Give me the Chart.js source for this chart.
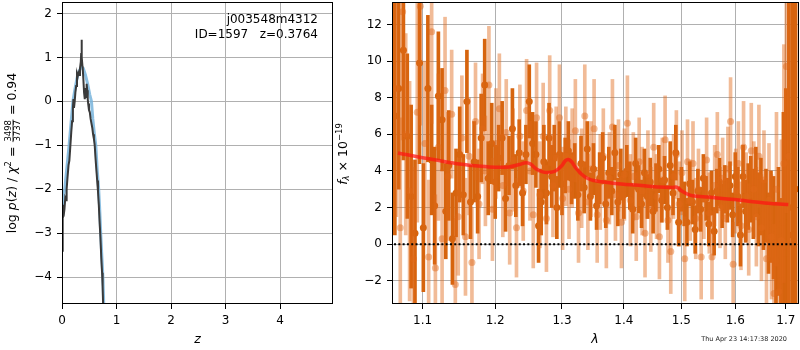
<!DOCTYPE html>
<html>
<head>
<meta charset="utf-8">
<script src="https://cdn.jsdelivr.net/npm/chart.js@4.4.0/dist/chart.umd.min.js"></script>
<style>
html, body { margin: 0; padding: 0; background: #fff; }
#wrap { position: relative; width: 800px; height: 350px; }
#pzChart { position: absolute; left: 0; top: 0; }
#specChart { position: absolute; left: 330px; top: 0; }
</style>
</head>
<body>
<div id="wrap">
    <canvas id="pzChart" width="340" height="350"></canvas>
    <canvas id="specChart" width="470" height="350"></canvas>
</div>
<script>
// p(z) pannello sinistro
const zDark = [0.000, 0.008, 0.018, 0.030, 0.045, 0.060, 0.075, 0.085, 0.100, 0.120,
    0.135, 0.154, 0.170, 0.185, 0.200, 0.210, 0.220, 0.233, 0.245, 0.260,
    0.275, 0.285, 0.300, 0.315, 0.330, 0.345, 0.352, 0.358, 0.365, 0.375,
    0.380, 0.392, 0.405, 0.418, 0.430, 0.442, 0.452, 0.462, 0.472, 0.480,
    0.495, 0.510, 0.525, 0.540, 0.555, 0.570, 0.585, 0.600, 0.615, 0.630,
    0.645, 0.660, 0.675, 0.690, 0.705, 0.720, 0.735, 0.745, 0.760];
const logpDark = [-3.4, -2.35, -2.65, -2.6, -2.45, -2.2, -2.25, -2.0, -1.75, -1.45,
    -1.35, -1.0, -0.7, -0.45, -0.15, 0.05, -0.15, 0.0, 0.2, 0.35,
    0.6, 0.55, 0.65, 0.6, 0.75, 0.9, 1.1, 1.4, 1.0, 0.8,
    0.75, 0.5, 0.2, 0.05, 0.3, 0.1, 0.4, 0.25, 0.05, -0.05,
    -0.2, -0.25, -0.4, -0.5, -0.6, -0.75, -0.85, -1.0, -1.3, -1.55,
    -1.8, -2.05, -2.35, -2.75, -3.1, -3.55, -3.9, -4.2, -4.9];
const zSmooth = [0.0, 0.025, 0.05, 0.09, 0.13, 0.165, 0.2, 0.24, 0.28, 0.32, 0.356, 0.39, 0.43,
    0.47, 0.51, 0.54, 0.565, 0.595, 0.62, 0.648, 0.673, 0.693, 0.71, 0.73, 0.75, 0.77];
const logpSmooth = [-2.45, -2.2, -2.0, -1.5, -1.0, -0.5, 0.0, 0.3, 0.55, 0.7, 0.79, 0.75, 0.6,
    0.4, 0.15, 0.0, -0.4, -0.75, -1.0, -1.6, -2.0, -2.5, -3.0, -3.5, -4.0, -4.8];
const zTicks = [0, 1, 2, 3, 4];
const logpTicks = [-4, -3, -2, -1, 0, 1, 2];

// spettro - serie scura
const waveA = [1.064, 1.069, 1.075, 1.080, 1.085, 1.090, 1.096, 1.101, 1.107, 1.112,
    1.116, 1.121, 1.126, 1.131, 1.135, 1.140, 1.145, 1.150, 1.155, 1.160,
    1.165, 1.170, 1.175, 1.180, 1.185, 1.190, 1.195, 1.200, 1.205, 1.210,
    1.215, 1.220, 1.225, 1.230, 1.235, 1.240, 1.245, 1.250, 1.255, 1.260,
    1.264, 1.268, 1.272, 1.276, 1.280, 1.284, 1.288, 1.292, 1.296, 1.300,
    1.305, 1.310, 1.315, 1.320, 1.325, 1.330, 1.335, 1.340, 1.345, 1.350,
    1.355, 1.360, 1.365, 1.370, 1.375, 1.380, 1.385, 1.390, 1.395, 1.400,
    1.405, 1.410, 1.415, 1.420, 1.425, 1.430, 1.435, 1.440, 1.445, 1.450,
    1.455, 1.460, 1.465, 1.470, 1.475, 1.480, 1.485, 1.490, 1.495, 1.500,
    1.505, 1.510, 1.515, 1.520, 1.525, 1.530, 1.535, 1.540, 1.545, 1.550,
    1.555, 1.560, 1.565, 1.570, 1.575, 1.580, 1.585, 1.590, 1.595, 1.600,
    1.605, 1.610, 1.615, 1.620, 1.625, 1.630, 1.635, 1.640, 1.645, 1.650,
    1.655, 1.660, 1.665, 1.670, 1.675, 1.680, 1.685, 1.690, 1.695, 1.700,
    1.706, 1.713, 1.720];
const fluxA = [7.0, 8.5, 10.6, 5.9, 2.6, 0.6, 9.9, 0.9, 8.5, 4.6,
    2.1, 8.1, 6.8, 1.8, 4.3, 0.3, 2.8, 4.9, 2.7, 7.8,
    2.3, 4.5, 2.6, 5.8, 8.7, 3.6, 5.5, 3.4, 4.7, 5.8,
    2.5, 4.3, 6.3, 3.2, 5.0, 2.8, 4.9, 7.8, 5.5, 4.9,
    1.0, 2.3, 4.5, 2.8, 5.8, 3.7, 4.7, 2.0, 4.9, 3.3,
    4.3, 5.1, 3.6, 4.0, 2.7, 4.4, 3.1, 5.2, 2.6, 4.1,
    2.1, 3.6, 4.7, 2.2, 3.9, 2.9, 5.0, 2.3, 3.8, 2.7,
    4.0, 3.2, 1.9, 4.4, 3.0, 2.2, 3.9, 2.6, 3.4, 1.8,
    3.1, 4.1, 2.4, 3.5, 2.0, 4.3, 2.8, 5.0, 1.2, 3.0,
    2.2, 1.2, 3.3, 2.3, 0.8, 2.9, 1.9, 3.6, 2.5, 1.1,
    2.8, 0.7, 2.9, 3.4, 2.1, 3.0, 2.4, 3.2, 1.6, 3.7,
    2.6, 0.5, 3.7, 1.8, 2.6, 3.0, 2.2, 3.4, 1.9, 2.6,
    1.6, 2.1, 0.6, 1.5, 0.9, -0.9, 0.7, -2.0, 1.2, -0.5,
    2.0, 0.5, 3.0];
const errA = [6.5, 5.5, 6.0, 4.5, 5.0, 4.0, 5.5, 3.5, 4.0, 3.0,
    3.2, 3.5, 2.8, 2.6, 3.0, 2.5, 2.4, 2.6, 2.2, 2.8,
    2.0, 2.2, 2.0, 2.4, 2.5, 2.0, 2.2, 2.0, 1.8, 2.0,
    1.8, 1.6, 2.2, 1.7, 1.8, 1.8, 1.6, 2.0, 1.7, 1.8,
    2.0, 1.8, 2.0, 1.7, 1.9, 1.7, 1.8, 1.7, 1.8, 1.7,
    1.5, 1.6, 1.4, 1.5, 1.4, 1.5, 1.4, 1.5, 1.3, 1.4,
    1.3, 1.4, 1.4, 1.3, 1.4, 1.3, 1.5, 1.3, 1.4, 1.3,
    1.4, 1.3, 1.3, 1.4, 1.3, 1.3, 1.3, 1.2, 1.3, 1.2,
    1.3, 1.3, 1.2, 1.3, 1.2, 1.3, 1.2, 1.5, 1.3, 1.2,
    1.2, 1.3, 1.2, 1.2, 1.3, 1.2, 1.2, 1.3, 1.2, 1.2,
    1.2, 1.3, 1.2, 1.3, 1.2, 1.3, 1.2, 1.3, 1.2, 1.3,
    1.6, 1.7, 1.7, 1.7, 1.8, 1.8, 1.9, 1.9, 2.0, 2.1,
    1.9, 2.0, 2.2, 2.5, 2.8, 3.2, 3.5, 4.5, 6.0, 9.0,
    12.0, 16.0, 18.0];

// spettro - serie chiara
const waveB = [1.066, 1.071, 1.074, 1.078, 1.083, 1.088, 1.093, 1.097, 1.103, 1.108,
    1.112, 1.117, 1.121, 1.126, 1.130, 1.134, 1.139, 1.144, 1.148, 1.153,
    1.158, 1.163, 1.167, 1.172, 1.177, 1.182, 1.186, 1.191, 1.196, 1.201,
    1.206, 1.211, 1.216, 1.221, 1.226, 1.231, 1.236, 1.241, 1.246, 1.251,
    1.256, 1.261, 1.266, 1.271, 1.276, 1.281, 1.286, 1.291, 1.296, 1.301,
    1.306, 1.311, 1.316, 1.321, 1.326, 1.331, 1.336, 1.341, 1.346, 1.351,
    1.356, 1.361, 1.366, 1.371, 1.376, 1.381, 1.386, 1.391, 1.396, 1.401,
    1.406, 1.411, 1.416, 1.421, 1.426, 1.431, 1.436, 1.441, 1.446, 1.451,
    1.456, 1.461, 1.466, 1.471, 1.476, 1.481, 1.486, 1.491, 1.496, 1.501,
    1.506, 1.511, 1.516, 1.521, 1.526, 1.531, 1.536, 1.541, 1.546, 1.551,
    1.556, 1.561, 1.566, 1.571, 1.576, 1.581, 1.586, 1.591, 1.596, 1.601,
    1.606, 1.611, 1.616, 1.621, 1.626, 1.631, 1.636, 1.641, 1.646, 1.651,
    1.656, 1.661, 1.666, 1.671, 1.676, 1.681, 1.686, 1.691, 1.696, 1.701,
    1.706];
const fluxB = [8.5, 0.9, 12.7, 6.0, 2.9, -0.8, 7.2, 13.0, 5.5, -0.7,
    11.6, -1.3, 5.3, 0.3, 8.4, 3.7, 7.1, -2.2, 1.5, 5.8,
    0.4, 4.8, -1.0, 6.7, 2.2, 6.3, 4.0, 8.7, 1.9, 5.5,
    7.4, 3.2, 6.1, 1.7, 4.6, 0.9, 5.9, 2.9, 7.3, 4.0,
    1.6, 6.9, 2.7, 5.9, 1.4, 7.3, 3.2, 4.7, 6.9, 2.5,
    4.8, 3.0, 4.7, 6.2, 1.7, 3.6, 7.0, 2.3, 4.1, 6.3,
    1.6, 3.4, 4.8, 1.3, 3.6, 6.4, 2.7, 4.3, 1.2, 3.8,
    6.6, 2.4, 3.7, 1.5, 4.5, 2.9, 0.6, 3.8, 1.9, 5.3,
    2.6, 0.4, 3.5, 5.7, 1.3, -0.4, 3.7, 4.9, 2.2, 3.9,
    -0.8, 4.5, 2.4, 4.4, 1.4, 3.0, -0.7, 2.5, 4.6, 1.7,
    -0.7, 3.2, 4.9, 2.0, 3.6, 1.4, 4.1, 6.7, -1.1, 2.9,
    4.4, 1.0, 5.3, 2.6, 0.8, 5.1, 3.0, 1.5, 4.8, 0.9,
    3.5, -0.8, 2.4, 0.4, -2.7, 3.0, -2.6, 0.2, 4.4, 9.7,
    4.8];
const errB = [7.0, 6.0, 7.0, 5.5, 6.0, 5.0, 6.0, 6.5, 4.5, 4.2,
    5.0, 4.0, 4.0, 3.8, 4.0, 3.5, 3.5, 3.6, 3.2, 3.4,
    3.2, 3.2, 3.0, 3.2, 3.0, 3.0, 3.0, 3.2, 2.8, 3.0,
    3.0, 2.8, 2.9, 2.8, 2.8, 2.7, 2.8, 2.7, 2.8, 2.7,
    2.9, 3.0, 2.9, 2.9, 2.9, 3.0, 2.8, 2.8, 2.9, 2.8,
    2.7, 2.7, 2.7, 2.8, 2.7, 2.7, 2.8, 2.6, 2.6, 2.7,
    2.6, 2.6, 2.6, 2.6, 2.5, 2.6, 2.5, 2.5, 2.5, 2.5,
    2.6, 2.5, 2.4, 2.4, 2.4, 2.4, 2.4, 2.4, 2.3, 2.4,
    2.3, 2.3, 2.3, 2.4, 2.3, 2.3, 2.3, 2.4, 2.3, 2.3,
    2.3, 2.3, 2.2, 2.3, 2.2, 2.2, 2.3, 2.2, 2.3, 2.2,
    2.3, 2.2, 2.3, 2.2, 2.2, 2.2, 2.3, 2.4, 2.3, 2.3,
    2.3, 2.4, 2.5, 2.4, 2.5, 2.6, 2.6, 2.7, 2.8, 2.9,
    2.7, 2.9, 3.1, 3.4, 3.8, 4.2, 4.8, 5.5, 6.5, 8.0,
    10.0];

// modello
const modelWave = [1.068, 1.08, 1.10, 1.12, 1.15, 1.18, 1.20, 1.22, 1.235, 1.245,
    1.252, 1.26, 1.27, 1.28, 1.29, 1.30, 1.305, 1.31, 1.315, 1.32,
    1.33, 1.34, 1.35, 1.37, 1.40, 1.43, 1.46, 1.485, 1.49, 1.495,
    1.50, 1.51, 1.52, 1.55, 1.58, 1.61, 1.64, 1.67, 1.705];
const modelFlux = [4.98, 4.88, 4.72, 4.58, 4.38, 4.25, 4.2, 4.22, 4.35, 4.45,
    4.38, 4.12, 3.95, 3.92, 4.0, 4.3, 4.55, 4.62, 4.5, 4.25,
    3.85, 3.6, 3.48, 3.38, 3.27, 3.2, 3.12, 3.1, 3.12, 3.05,
    2.92, 2.75, 2.65, 2.57, 2.48, 2.4, 2.3, 2.22, 2.17];
const zeroWave = [1.063, 1.724];
const zeroFlux = [0, 0];
const waveTicks = [1.1, 1.2, 1.3, 1.4, 1.5, 1.6, 1.7];
const fluxTicks = [-2, 0, 2, 4, 6, 8, 10, 12];

const FONT = '"DejaVu Sans", sans-serif';
const minus = v => String(v).replace('-', '\u2212');
const pts = (xs, ys) => xs.map((x, i) => ({ x: x, y: ys[i] }));
const bars = (xs, ys, es) => xs.map((x, i) => ({ x: x, y: [ys[i] - es[i], ys[i] + es[i]] }));

// testo con pedici/apici e frazioni
function drawRich(ctx, parts, cx, cy, angle) {
    ctx.save();
    ctx.translate(cx, cy);
    ctx.rotate(angle);
    let total = 0;
    parts.forEach(p => {
        ctx.font = p.f;
        p.w = p.frac ? Math.max(ctx.measureText(p.frac[0]).width, ctx.measureText(p.frac[1]).width) + 2
                     : ctx.measureText(p.t).width;
        total += p.w;
    });
    let x = -total / 2;
    ctx.textBaseline = 'middle';
    ctx.fillStyle = '#000';
    parts.forEach(p => {
        ctx.font = p.f;
        if (p.frac) {
            ctx.textAlign = 'center';
            ctx.fillText(p.frac[0], x + p.w / 2, -4.5);
            ctx.fillText(p.frac[1], x + p.w / 2, 4.5);
            ctx.fillRect(x + 0.5, -0.4, p.w - 1, 0.8);
        } else {
            ctx.textAlign = 'left';
            ctx.fillText(p.t, x, p.dy || 0);
        }
        x += p.w;
    });
    ctx.restore();
}

const frame = {
    id: 'frame',
    afterDraw(chart) {
        const a = chart.chartArea, ctx = chart.ctx;
        ctx.save();
        ctx.strokeStyle = '#000';
        ctx.lineWidth = 1;
        ctx.strokeRect(Math.round(a.left) + 0.5, Math.round(a.top) + 0.5,
            Math.round(a.right - a.left) - 1, Math.round(a.bottom - a.top) - 1);
        ctx.restore();
    }
};

function axis(min, max, ticks, type, size, isX, z) {
    return {
        type: type,
        min: min,
        max: max,
        bounds: 'data',
        offset: false,
        z: z,
        afterBuildTicks: s => { s.ticks = ticks.map(v => ({ value: v })); },
        afterFit: s => {
            if (isX) s.height = size; else s.width = size;
            s.paddingTop = 0; s.paddingBottom = 0; s.paddingLeft = 0; s.paddingRight = 0;
        },
        border: { display: false },
        grid: { color: '#b0b0b0', lineWidth: 1, tickColor: '#000', tickLength: 5, offset: false },
        ticks: {
            autoSkip: false, maxRotation: 0, padding: 5, color: '#000',
            font: { family: FONT, size: 12 },
            callback: v => minus(v)
        }
    };
}

const baseOpts = {
    responsive: false,
    animation: false,
    events: [],
    plugins: { legend: { display: false }, tooltip: { enabled: false } }
};

// Pannello p(z)
new Chart(document.getElementById('pzChart'), {
    type: 'line',
    data: {
        datasets: [
            { data: pts(zDark, logpDark), borderColor: '#3a3a3a', borderWidth: 2, pointRadius: 0, tension: 0, order: 0 },
            { data: pts(zSmooth, logpSmooth), borderColor: 'rgba(120,180,220,0.85)', borderWidth: 3, pointRadius: 0, tension: 0, order: 1 }
        ]
    },
    options: Object.assign({}, baseOpts, {
        layout: { autoPadding: false, padding: { left: 0, right: 7, top: 2, bottom: 0 } },
        scales: {
            x: axis(0, 4.97, zTicks, 'linear', 46, true, 0),
            y: axis(-4.61, 2.26, logpTicks, 'linear', 62, false, 0)
        }
    }),
    plugins: [frame, {
        id: 'labels',
        afterDraw(chart) {
            const ctx = chart.ctx;
            const N = '12.5px ' + FONT, I = 'italic 12.5px ' + FONT, S = '8.5px ' + FONT;
            ctx.save();
            ctx.fillStyle = '#000';
            ctx.font = '12px ' + FONT;
            ctx.textAlign = 'right';
            ctx.textBaseline = 'middle';
            ctx.fillText('j003548m4312', 318, 20);
            ctx.fillText('ID=1597   z=0.3764', 318, 35);
            ctx.font = I;
            ctx.textAlign = 'center';
            ctx.fillText('z', 197.5, 340);
            ctx.restore();
            drawRich(ctx, [
                { t: 'log ', f: N }, { t: 'p', f: I }, { t: '(', f: N }, { t: 'z', f: I },
                { t: ') / ', f: N }, { t: '\u03c7', f: I }, { t: '2', f: S, dy: -4 },
                { t: ' = ', f: N }, { frac: ['3498', '3737'], f: S }, { t: ' = 0.94', f: N }
            ], 13, 153, -Math.PI / 2);
        }
    }]
});

// Pannello spettro
new Chart(document.getElementById('specChart'), {
    type: 'scatter',
    data: {
        datasets: [
            { type: 'line', data: pts(zeroWave, zeroFlux), borderColor: '#000', borderWidth: 2,
              borderDash: [2, 2.3], pointRadius: 0, order: 0 },
            { type: 'line', data: pts(modelWave, modelFlux), borderColor: 'rgba(255,20,20,0.72)', borderWidth: 3.5,
              pointRadius: 0, tension: 0.3, order: 1 },
            { type: 'scatter', data: pts(waveB, fluxB), backgroundColor: 'rgba(225,105,25,0.45)',
              pointRadius: 3.5, pointBorderWidth: 0, clip: 0, order: 2 },
            { type: 'bar', data: bars(waveB, fluxB, errB), backgroundColor: 'rgba(225,105,25,0.45)',
              barThickness: 3, stack: 'err', borderWidth: 0, order: 3 },
            { type: 'scatter', data: pts(waveA, fluxA), backgroundColor: 'rgb(214,100,14)',
              pointRadius: 3.5, pointBorderWidth: 0, clip: 0, order: 4 },
            { type: 'bar', data: bars(waveA, fluxA, errA), backgroundColor: 'rgb(214,100,14)',
              barThickness: 3, stack: 'err', borderWidth: 0, order: 5 }
        ]
    },
    options: Object.assign({}, baseOpts, {
        layout: { autoPadding: false, padding: { left: 0, right: 1, top: 2, bottom: 0 } },
        scales: {
            x: axis(1.0604, 1.727, waveTicks, 'logarithmic', 46, true, 1),
            y: Object.assign(axis(-3.27, 13.23, fluxTicks, 'linear', 62, false, 1), { stacked: false })
        }
    }),
    plugins: [frame, {
        id: 'labels',
        afterDraw(chart) {
            const ctx = chart.ctx;
            const N = '12.5px ' + FONT, I = 'italic 12.5px ' + FONT, S = '8.5px ' + FONT, SI = 'italic 8.5px ' + FONT;
            ctx.save();
            ctx.fillStyle = '#000';
            ctx.font = I;
            ctx.textAlign = 'center';
            ctx.textBaseline = 'middle';
            ctx.fillText('\u03bb', 265, 340);
            ctx.font = '6.5px ' + FONT;
            ctx.fillStyle = '#222';
            ctx.textAlign = 'right';
            ctx.fillText('Thu Apr 23 14:17:38 2020', 457, 339);
            ctx.restore();
            drawRich(ctx, [
                { t: 'f', f: I }, { t: '\u03bb', f: SI, dy: 3 }, { t: ' \u00d7 10', f: N }, { t: '\u221219', f: S, dy: -4 }
            ], 13.5, 154, -Math.PI / 2);
        }
    }]
});
</script>
</body>
</html>
